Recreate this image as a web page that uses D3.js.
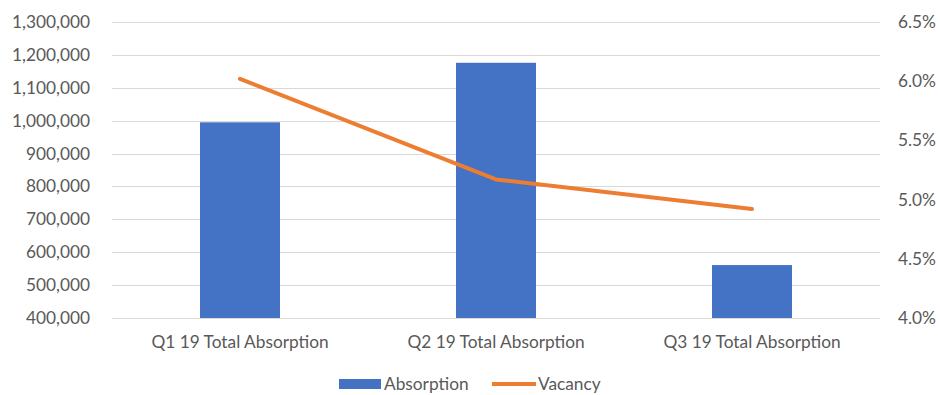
<!DOCTYPE html>
<html>
<head>
<meta charset="utf-8">
<script src="https://cdn.jsdelivr.net/npm/d3@7"></script>
<style>
  html, body { margin: 0; padding: 0; background: #fff; }
  svg { display: block; font-family: Lato, "Open Sans", sans-serif; }
</style>
</head>
<body>
<svg id="chart" width="940" height="395"></svg>
<script>
// Quarterly absorption (bars, left axis) and vacancy rate (line, right axis)
const categories = ["Q1 19 Total Absorption", "Q2 19 Total Absorption", "Q3 19 Total Absorption"];
const absorption = [995000, 1176000, 561000];
const vacancy = [6.02, 5.17, 4.92];
const leftTicks = [400000, 500000, 600000, 700000, 800000, 900000, 1000000, 1100000, 1200000, 1300000];
const rightTicks = [4.0, 4.5, 5.0, 5.5, 6.0, 6.5];
const seriesNames = ["Absorption", "Vacancy"];

const svg = d3.select("#chart");
const margin = { left: 112, right: 60, top: 22, bottom: 77 };
const W = 940, H = 395;
const x0 = margin.left, x1 = W - margin.right;
const y0 = H - margin.bottom, y1 = margin.top;

const textColor = "#595959";
const gridColor = "#d9d9d9";
const barColor = "#4472c4";
const lineColor = "#ed7d31";
const fontSize = "17.3px";

const x = d3.scaleBand().domain(categories).range([x0, x1])
  .paddingInner(0.6875).paddingOuter(0.34375);
const yL = d3.scaleLinear().domain([400000, 1300000]).range([y0, y1]);
const yR = d3.scaleLinear().domain([4.0, 6.5]).range([y0, y1]);

// horizontal gridlines from the left axis
svg.append("g").selectAll("line").data(leftTicks).join("line")
  .attr("x1", x0).attr("x2", x1)
  .attr("y1", d => Math.round(yL(d)) + 0.5).attr("y2", d => Math.round(yL(d)) + 0.5)
  .attr("stroke", gridColor).attr("stroke-width", 1);

// left axis
const fmt = d3.format(",");
const axL = svg.append("g").attr("transform", `translate(${x0 - 22},0)`)
  .call(d3.axisLeft(yL).tickValues(leftTicks).tickFormat(fmt).tickSize(0).tickPadding(0));
axL.select(".domain").remove();
axL.selectAll("text").attr("fill", textColor).style("font-size", fontSize)
  .style("font-family", "Lato, sans-serif");

// right axis
const axR = svg.append("g").attr("transform", `translate(${x1 + 18},0)`)
  .call(d3.axisRight(yR).tickValues(rightTicks).tickFormat(d => d.toFixed(1) + "%").tickSize(0).tickPadding(0));
axR.select(".domain").remove();
axR.selectAll("text").attr("fill", textColor).style("font-size", fontSize)
  .style("font-family", "Lato, sans-serif");

// bars
svg.append("g").selectAll("rect").data(categories).join("rect")
  .attr("x", d => x(d))
  .attr("width", x.bandwidth())
  .attr("y", (d, i) => yL(absorption[i]))
  .attr("height", (d, i) => y0 - yL(absorption[i]))
  .attr("fill", barColor);

// vacancy line
const line = d3.line()
  .x((d, i) => x(categories[i]) + x.bandwidth() / 2)
  .y(d => yR(d));
svg.append("path").datum(vacancy)
  .attr("d", line)
  .attr("fill", "none")
  .attr("stroke", lineColor)
  .attr("stroke-width", 4)
  .attr("stroke-linejoin", "round")
  .attr("stroke-linecap", "round");

// category labels
svg.append("g").selectAll("text").data(categories).join("text")
  .attr("x", d => x(d) + x.bandwidth() / 2)
  .attr("y", 348)
  .attr("text-anchor", "middle")
  .attr("fill", textColor)
  .style("font-size", fontSize)
  .text(d => d);

// legend
const lg = svg.append("g");
lg.append("rect").attr("x", 339).attr("y", 379).attr("width", 42).attr("height", 10).attr("fill", barColor);
lg.append("text").attr("x", 384).attr("y", 390).attr("fill", textColor)
  .style("font-size", fontSize).text(seriesNames[0]);
lg.append("line").attr("x1", 492).attr("x2", 536).attr("y1", 384).attr("y2", 384)
  .attr("stroke", lineColor).attr("stroke-width", 4);
lg.append("text").attr("x", 538).attr("y", 390).attr("fill", textColor)
  .style("font-size", fontSize).text(seriesNames[1]);
</script>
</body>
</html>
